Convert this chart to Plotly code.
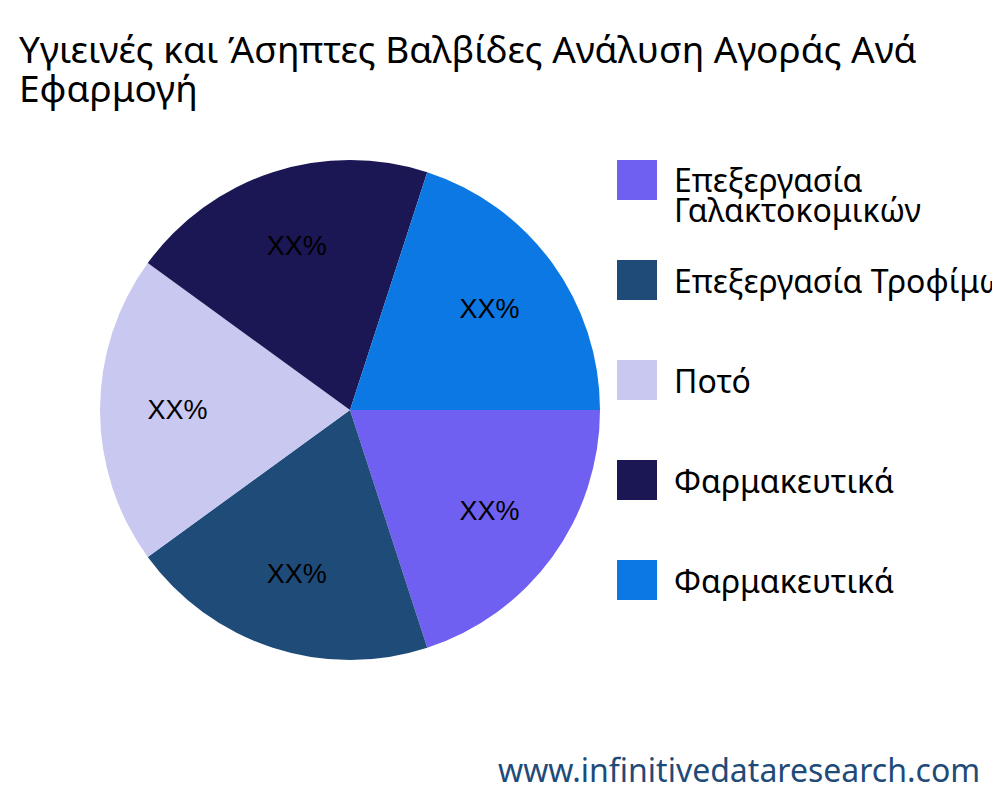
import plotly.graph_objects as go

labels = ["Επεξεργασία Γαλακτοκομικών", "Επεξεργασία Τροφίμων", "Ποτό", "Φαρμακευτικά", "Φαρμακευτικά "]
legend_lines = [["Επεξεργασία", "Γαλακτοκομικών"], ["Επεξεργασία Τροφίμων"], ["Ποτό"], ["Φαρμακευτικά"], ["Φαρμακευτικά"]]
values = [20, 20, 20, 20, 20]
slice_text = ["XX%"] * 5
colors = ["#7060F2", "#1F4B79", "#C8C8F0", "#1B1654", "#0B78E3"]
title_lines = ["Υγιεινές και Άσηπτες Βαλβίδες Ανάλυση Αγοράς Ανά", "Εφαρμογή"]

W, H, OFF = 1000, 800, 8
def px(x): return (x - OFF) / W
def py(y): return 1 - (y - OFF) / H

dom = dict(x=[px(100), px(600)], y=[py(660), py(160)])
fig = go.Figure()
fig.add_trace(go.Pie(
    labels=labels, values=values, textinfo="none",
    marker=dict(colors=colors), sort=False, direction="clockwise", rotation=90,
    domain=dom, showlegend=False, hoverinfo="label"))
fig.add_trace(go.Pie(
    labels=labels, values=values, text=slice_text, texttemplate="%{text}", hole=0.38,
    textposition="inside", insidetextorientation="horizontal",
    textfont=dict(family="Arial", size=27, color="black"),
    marker=dict(colors=["rgba(0,0,0,0)"] * 5, line=dict(width=0)), sort=False,
    direction="clockwise", rotation=90, domain=dom, showlegend=False, hoverinfo="skip"))

for i, (lines, c) in enumerate(zip(legend_lines, colors)):
    yc = 180 + 100 * i
    fig.add_shape(type="rect", xref="paper", yref="paper", x0=px(617), x1=px(657),
                  y0=py(yc + 20), y1=py(yc - 20), fillcolor=c, line_width=0)
    for j, t in enumerate(lines):
        fig.add_annotation(xref="paper", yref="paper", x=px(672), y=py(yc + 30 * j),
                           text=t, showarrow=False, xanchor="left", yanchor="middle", align="left",
                           font=dict(family="Noto Sans", size=32, color="black"))

fig.add_annotation(xref="paper", yref="paper", x=px(982), y=py(769), text="www.infinitivedataresearch.com",
                   showarrow=False, xanchor="right", yanchor="middle",
                   font=dict(family="Noto Sans", size=32, color="#1F4B79"))

for j, t in enumerate(title_lines):
    fig.add_annotation(xref="paper", yref="paper", x=px(17), y=py(48 + 40 * j), yanchor="middle",
                       xanchor="left", showarrow=False, text=t,
                       font=dict(family="Noto Sans", size=37, color="black"))

fig.update_layout(
    width=W, height=H, autosize=False, margin=dict(l=0, r=0, t=0, b=0),
    paper_bgcolor="white", plot_bgcolor="white")
fig.write_html("out.html")
